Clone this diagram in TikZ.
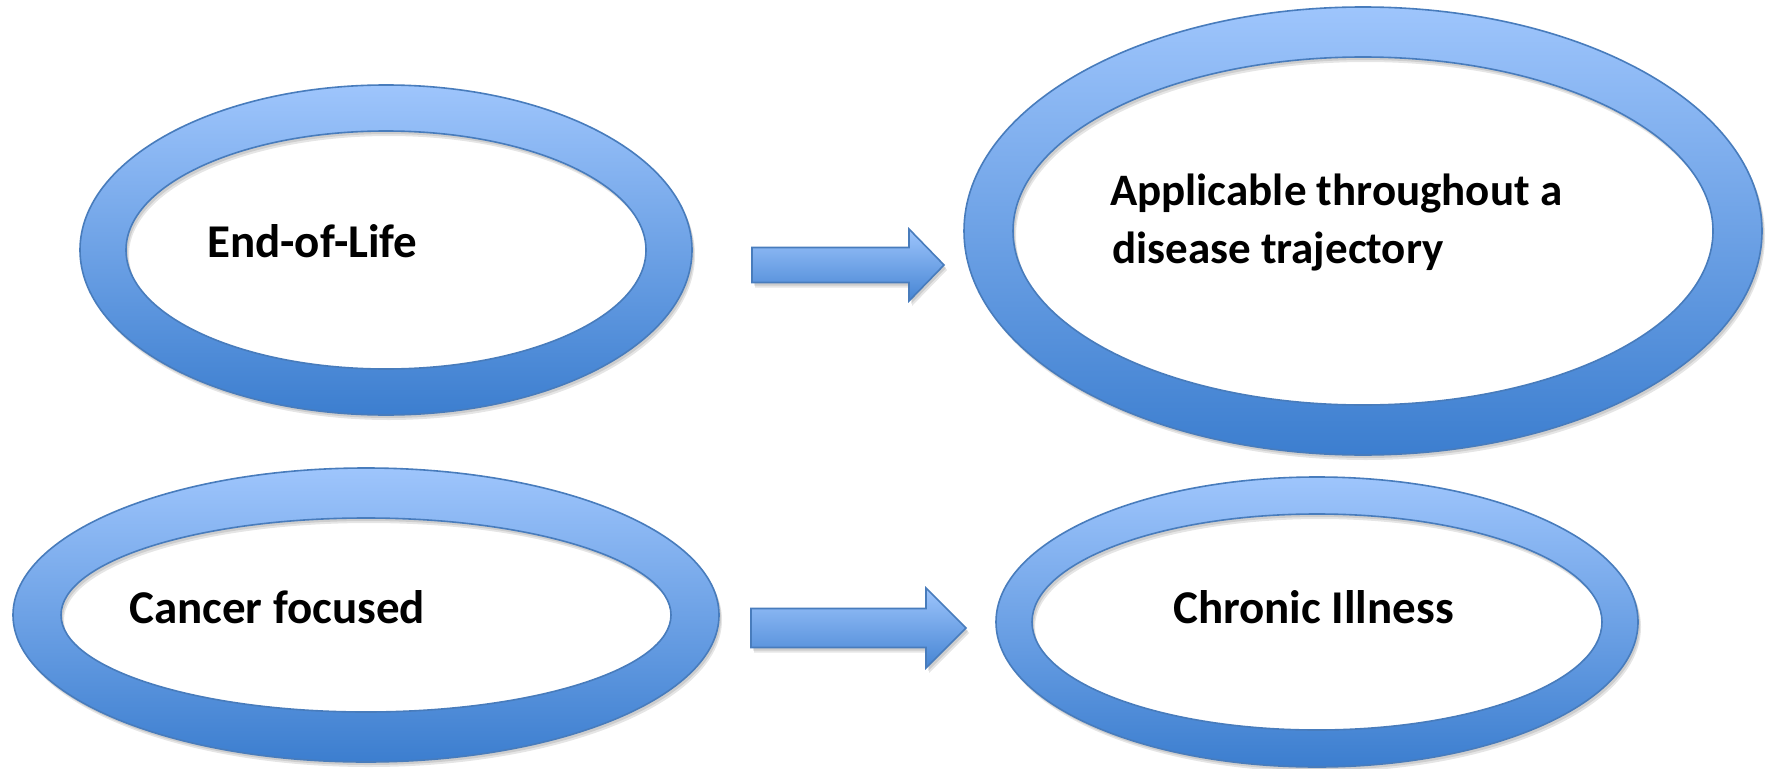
\documentclass[tikz,border=0pt]{standalone}
\usepackage{fontspec}
\setmainfont{Carlito}
\usetikzlibrary{calc}
\definecolor{ringtop}{RGB}{158,197,252}
\definecolor{ringmid}{RGB}{124,171,236}
\definecolor{ringbot}{RGB}{60,126,207}
\definecolor{ringline}{RGB}{72,124,188}
\tikzset{
  ring/.style={draw=ringline, line width=1.6pt, even odd rule,
    top color=ringtop, middle color=ringmid, bottom color=ringbot},
  ringshadow/.style={fill=black, fill opacity=0.10, even odd rule, draw=none},
  lbl/.style={anchor=base west, inner sep=0pt, font=\bfseries\fontsize{47}{58}\selectfont},
  lblsmall/.style={lbl, font=\bfseries\fontsize{45}{58}\selectfont},
  blockarrow/.style={draw=ringline, line width=1.6pt, line join=miter,
    top color=ringtop, middle color=ringmid, bottom color=ringbot!85!ringmid}
}
\begin{document}
\begin{tikzpicture}[x=1pt,y=-1pt]
\path[use as bounding box, fill=white] (0,0) rectangle (1771,768);

% centres of the rings
\coordinate (e1) at (386,250);
\coordinate (e2) at (1363,231);
\coordinate (e3) at (366,615);
\coordinate (e4) at (1317,622);

% shadows
\foreach \dx/\dy in {2/3,3/5}{
  \path[ringshadow] ($(e1)+(\dx,\dy)$) ellipse[x radius=306,y radius=165] ($(e1)+(\dx,\dy)$) ellipse[x radius=260,y radius=119];
  \path[ringshadow] ($(e2)+(\dx,\dy)$) ellipse[x radius=399,y radius=224] ($(e2)+(\dx,\dy)$) ellipse[x radius=350,y radius=174];
  \path[ringshadow] ($(e3)+(\dx,\dy)$) ellipse[x radius=353,y radius=147] ($(e3)+(\dx,\dy)$) ellipse[x radius=305,y radius=97];
  \path[ringshadow] ($(e4)+(\dx,\dy)$) ellipse[x radius=321,y radius=145] ($(e4)+(\dx,\dy)$) ellipse[x radius=285,y radius=108];
}

% rings
\path[ring] (e1) ellipse[x radius=306,y radius=165] (e1) ellipse[x radius=260,y radius=119];
\path[ring] (e2) ellipse[x radius=399,y radius=224] (e2) ellipse[x radius=350,y radius=174];
\path[ring] (e3) ellipse[x radius=353,y radius=147] (e3) ellipse[x radius=305,y radius=97];
\path[ring] (e4) ellipse[x radius=321,y radius=145] (e4) ellipse[x radius=285,y radius=108];

% labels
\node[lbl] (t1) at (207,257) {End-of-Life};
\node[lblsmall] (t2a) at (1110,205) {Applicable throughout a};
\node[lblsmall] (t2b) at (1112,263) {disease trajectory};
\node[lbl] (t3) at (129,623) {Cancer focused};
\node[lbl] (t4) at (1173,623) {Chronic Illness};

% block arrows
\coordinate (a1s) at (752,265);
\coordinate (a1e) at (944,265);
\coordinate (a2s) at (751,628);
\coordinate (a2e) at (966,628);

\foreach \dx/\dy in {2/3,3/5}{
  \path[fill=black, fill opacity=0.10] ($(a1s)+(\dx,-17.5+\dy)$) -- ($(a1s)+(157+\dx,-17.5+\dy)$) -- ($(a1s)+(157+\dx,-36+\dy)$) -- ($(a1e)+(\dx,\dy)$) -- ($(a1s)+(157+\dx,36+\dy)$) -- ($(a1s)+(157+\dx,17.5+\dy)$) -- ($(a1s)+(\dx,17.5+\dy)$) -- cycle;
  \path[fill=black, fill opacity=0.10] ($(a2s)+(\dx,-19.5+\dy)$) -- ($(a2s)+(175+\dx,-19.5+\dy)$) -- ($(a2s)+(175+\dx,-40+\dy)$) -- ($(a2e)+(\dx,\dy)$) -- ($(a2s)+(175+\dx,40+\dy)$) -- ($(a2s)+(175+\dx,19.5+\dy)$) -- ($(a2s)+(\dx,19.5+\dy)$) -- cycle;
}
\draw[blockarrow] ($(a1s)+(0,-17.5)$) -- ($(a1s)+(157,-17.5)$) -- ($(a1s)+(157,-36)$) -- (a1e) -- ($(a1s)+(157,36)$) -- ($(a1s)+(157,17.5)$) -- ($(a1s)+(0,17.5)$) -- cycle;
\draw[blockarrow] ($(a2s)+(0,-19.5)$) -- ($(a2s)+(175,-19.5)$) -- ($(a2s)+(175,-40)$) -- (a2e) -- ($(a2s)+(175,40)$) -- ($(a2s)+(175,19.5)$) -- ($(a2s)+(0,19.5)$) -- cycle;
\end{tikzpicture}
\end{document}
